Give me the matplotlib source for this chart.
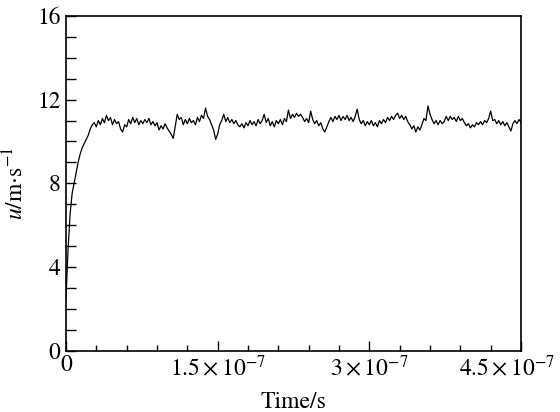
import numpy as np
import matplotlib
matplotlib.use("Agg")
import matplotlib.pyplot as plt
import matplotlib.transforms as mtransforms
from matplotlib.ticker import FixedLocator, MultipleLocator, FixedFormatter

plt.rcParams['font.family'] = ['STIXGeneral', 'Liberation Serif', 'DejaVu Serif']
plt.rcParams['mathtext.fontset'] = 'stix'

# sampling step of the velocity record (s)
dt = 2e-9

# velocity u (m/s), one value per 2e-9 s
u_values = [
    2.5, 4.8, 6.5, 7.5, 8.0, 8.5, 9.0, 9.4, 9.7, 9.9,
    10.1, 10.3, 10.6, 10.8, 10.9, 10.7, 11.0, 10.8, 11.1, 10.9,
    11.25, 11.0, 11.15, 10.8, 11.05, 10.85, 10.95, 10.6, 10.45, 10.8,
    10.7, 11.05, 10.85, 11.15, 10.9, 11.1, 10.8, 11.0, 10.85, 11.05,
    10.9, 11.1, 10.8, 10.95, 10.75, 10.9, 10.55, 10.75, 10.6, 10.85,
    10.65, 10.5, 10.35, 10.15, 10.7, 11.3, 11.05, 11.15, 10.8, 11.05,
    10.85, 11.1, 10.9, 11.0, 10.8, 11.15, 10.95, 11.25, 11.1, 11.6,
    11.2, 11.05, 10.8, 10.55, 10.1, 10.35, 10.8, 11.0, 11.3, 10.95,
    11.15, 10.9, 11.05, 10.85, 11.0, 10.8, 10.7, 10.85, 10.65, 10.9,
    10.75, 11.0, 10.8, 10.95, 10.75, 11.05, 10.85, 11.0, 11.3, 10.9,
    11.1, 10.75, 10.95, 10.7, 11.0, 10.85, 11.05, 10.8, 11.1, 10.95,
    11.5, 11.1, 11.3, 11.15, 11.35, 11.2, 11.3, 11.15, 10.95, 11.1,
    10.9, 11.45, 11.05, 10.85, 11.0, 10.75, 10.9, 10.6, 10.45, 10.7,
    10.95, 11.15, 10.95, 11.2, 11.05, 11.25, 11.0, 11.2, 11.05, 11.25,
    11.0, 11.15, 10.95, 11.2, 11.55, 11.05, 10.85, 11.0, 10.75, 10.95,
    10.8, 11.0, 10.75, 10.9, 10.7, 11.0, 10.85, 11.05, 10.9, 11.15,
    11.0, 11.2, 11.05, 11.25, 11.35, 11.1, 11.25, 11.05, 11.2, 10.95,
    10.8, 10.6, 10.75, 10.45, 10.7, 10.55, 10.8, 11.1, 11.0, 11.7,
    11.3, 11.05, 10.85, 11.0, 10.8, 11.0, 10.85, 10.95, 11.2, 11.0,
    11.2, 11.05, 11.15, 10.95, 11.2, 11.0, 11.1, 10.9, 10.75, 10.85,
    10.65, 10.8, 10.7, 10.9, 10.8, 10.95, 10.8, 11.0, 10.9, 11.1,
    11.45, 11.0, 11.05, 10.85, 11.0, 10.8, 10.95, 10.75, 10.9, 10.7,
    10.5, 10.85, 11.0, 10.85, 11.05, 10.9,
]
time_values = np.arange(len(u_values)) * dt

x_ticks = [0, 1.5e-7, 3e-7, 4.5e-7]
x_tick_labels = ['0', r'$1.5\times10^{-7}$', r'$3\times10^{-7}$', r'$4.5\times10^{-7}$']
y_ticks = [0, 4, 8, 12, 16]
y_tick_labels = ['0', '4', '8', '12', '16']

fig = plt.figure(figsize=(5.6, 4.12), dpi=100)
ax = fig.add_axes([66/560, 1 - 350.6/412, (521-66)/560, (350.6-16)/412])

ax.plot(time_values, u_values, color='black', linewidth=0.9)

ax.set_xlim(0, 4.5e-7)
ax.set_ylim(0, 16)

ax.xaxis.set_major_locator(FixedLocator(x_ticks))
ax.xaxis.set_major_formatter(FixedFormatter(x_tick_labels))
ax.xaxis.set_minor_locator(MultipleLocator(3e-8))
ax.yaxis.set_major_locator(FixedLocator(y_ticks))
ax.yaxis.set_major_formatter(FixedFormatter(y_tick_labels))
ax.yaxis.set_minor_locator(MultipleLocator(1))

ax.tick_params(which='both', direction='in', top=False, right=False,
               width=1.0, labelsize=17, colors='black')
ax.tick_params(axis='x', which='major', length=7, pad=3)
ax.tick_params(axis='x', which='minor', length=4)
ax.tick_params(axis='y', which='major', length=7, pad=4)
ax.tick_params(axis='y', which='minor', length=7)

for s in ax.spines.values():
    s.set_linewidth(1.2)

ax.set_xlabel('Time/s', fontsize=17, labelpad=8)
ax.set_ylabel(r'$u$/m$\cdot$s$^{-1}$', fontsize=17, labelpad=6)

fig.canvas.draw()
# shift the last x tick label left so it stays inside the figure
last = ax.get_xticklabels()[-1]
last.set_transform(last.get_transform() +
                   mtransforms.ScaledTranslation(-14/100, 0, fig.dpi_scale_trans))

fig.savefig('out.png', dpi=100)
